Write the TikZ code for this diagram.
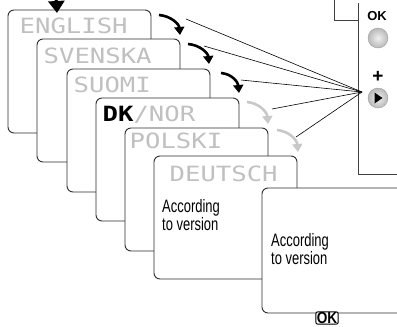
\documentclass[tikz,border=0pt]{standalone}
\usepackage{fontspec}
\usepackage{graphicx}
\usetikzlibrary{arrows.meta}
\setmainfont{Liberation Sans}
\newfontfamily\lcdfont{DejaVu Sans Mono}
\definecolor{lcdgray}{RGB}{192,192,192}
\definecolor{arrgray}{RGB}{200,200,200}
\definecolor{rim}{RGB}{45,45,45}
\newcommand{\lcd}[1]{\scalebox{1.22}[1]{\lcdfont\fontsize{21}{21}\selectfont #1}}
\newcommand{\verstext}{\scalebox{0.72}[1]{\fontsize{18}{17}\selectfont\begin{tabular}{@{}l@{}}According\\to version\end{tabular}}}
\tikzset{
  card/.style={draw=rim,fill=white,line width=0.9pt,rounded corners=6pt,
    minimum width=143pt,minimum height=123pt,inner sep=0pt,outer sep=0pt,anchor=north west},
  lang/.style={anchor=base west,inner sep=0pt,text=lcdgray},
  vers/.style={anchor=north west,inner sep=0pt},
  turn/.style={line width=2.6pt,-{Triangle[width=10pt,length=8pt]}},
  knob/.style={circle,draw=gray!75,inner color=gray!12,outer color=gray!55,minimum size=20pt,inner sep=0pt},
}
\begin{document}
\begin{tikzpicture}[x=1pt,y=-1pt]
	\useasboundingbox (0,0) rectangle (397,327);
	\clip (0,0) rectangle (397,327);

	% screens
	\node[card] (c1) at (8,10) {};
	\node[lang] (t1) at (19.5,33) {\lcd{ENGLISH}};
	\draw[line width=3pt,-{Triangle[width=16pt,length=12pt]}] (40,-16) .. controls (50,-12) and (56,-6) .. (57,13);
	\node[card] (c2) at (37,39) {};
	\node[lang] (t2) at (43.5,63) {\lcd{SVENSKA}};
	\node[card] (c3) at (67,69) {};
	\node[lang] (t3) at (73.5,92) {\lcd{SUOMI}};
	\node[card] (c4) at (96,98) {};
	\node[lang] (t4) at (102.5,121) {\lcd{\textcolor{black}{\bfseries DK}/NOR}};
	\node[card] (c5) at (125,128) {};
	\node[lang] (t5) at (129.5,148) {\lcd{POLSKI}};
	\node[card] (c6) at (154,156) {};
	\node[lang] (t6) at (169.5,181) {\lcd{DEUTSCH}};
	\node[vers] (v6) at (162,199.5) {\verstext};
	\node[card,minimum height=125pt] (c7) at (262,188) {};
	\node[vers] (v7) at (271,233.5) {\verstext};
	\node[draw=black,line width=1pt,fill=white,rounded corners=2pt,inner xsep=1pt,inner ysep=0.5pt,
	  font=\bfseries\fontsize{16}{16}\selectfont] (okkey) at (327,318) {\scalebox{0.85}[1]{OK}};

	% turning arrows
	\draw[turn] (159,15) .. controls (171,16) and (179,24) .. (180,35);
	\draw[turn] (188,44) .. controls (200,45) and (208,53) .. (209,64);
	\draw[turn] (221,73) .. controls (232,74) and (238,82) .. (239,93);
	\draw[turn,arrgray] (247,102) .. controls (259,103) and (267,112) .. (268,124);
	\draw[turn,arrgray] (277,130) .. controls (289,131) and (297,140) .. (298,152);

	% control panel
	\draw[black!75,line width=0.8pt] (334,0) -- (334,20) -- (358,20);
	\draw[black!75,line width=0.8pt] (358,3) -- (358,174) -- (397,174);
	\node[font=\bfseries\fontsize{13}{13}\selectfont] (oklbl) at (377,16) {OK};
	\node[knob] (okknob) at (378,38) {};
	\node[font=\bfseries\fontsize{19}{19}\selectfont] (pluslbl) at (378,77) {+};
	\node[knob] (plusknob) at (378,98) {};
	\fill (374.5,92.5) -- (382.5,98) -- (374.5,103.5) -- cycle;

	\coordinate (hub) at (362,92);
	\coordinate (f1) at (186,19);
	\coordinate (f2) at (204,46);
	\coordinate (f3) at (241,80);
	\coordinate (f4) at (272,109);
	\coordinate (f5) at (296,137);
	\draw[line width=0.6pt] (hub)--(f1);
	\draw[line width=0.6pt] (hub)--(f2);
	\draw[line width=0.6pt] (hub)--(f3);
	\draw[line width=0.6pt] (hub)--(f4);
	\draw[line width=0.6pt] (hub)--(f5);
\end{tikzpicture}
\end{document}
